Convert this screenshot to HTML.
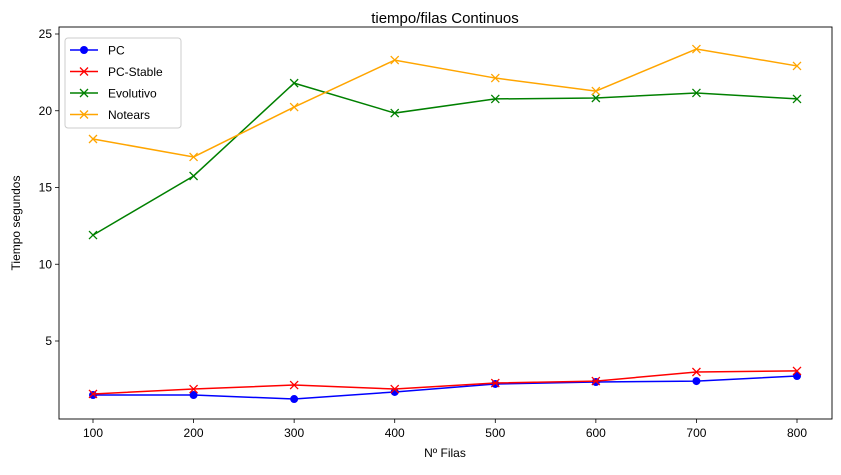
<!DOCTYPE html>
<html><head><meta charset="utf-8"><style>
html,body{margin:0;padding:0;background:#fff;}
svg{font-family:"Liberation Sans","DejaVu Sans",sans-serif;}
</style></head><body>
<svg id="chart" width="841" height="470" viewBox="0 0 841 470">
<text x="445" y="23" font-size="15" text-anchor="middle">tiempo/filas Continuos</text>
<text x="445" y="457" font-size="12" text-anchor="middle">Nº Filas</text>
<text x="20" y="223" font-size="12" text-anchor="middle" transform="rotate(-90 20 223)">Tiempo segundos</text>
<g id="axes"></g><g id="series"></g>
<rect x="59" y="27" width="773" height="392" fill="none" stroke="#000" stroke-width="0.9"/>
<g id="legend"></g>
</svg>
<script>
const categories=[100,200,300,400,500,600,700,800];
const pcValues=[1.48,1.48,1.22,1.68,2.2,2.33,2.39,2.72];
const pcStableValues=[1.55,1.87,2.13,1.87,2.26,2.39,2.98,3.05];
const evolutivoValues=[11.9,15.75,21.8,19.85,20.77,20.83,21.16,20.77];
const notearsValues=[18.16,16.99,20.24,23.3,22.13,21.28,24.02,22.92];
const xTicks=[100,200,300,400,500,600,700,800];
const yTicks=[5,10,15,20,25];
const NS='http://www.w3.org/2000/svg';
const xs=v=>93+(v-100)*(704/700);
const ys=v=>341-(v-5)*15.35;
function mk(t,a,p){const e=document.createElementNS(NS,t);for(const k in a)e.setAttribute(k,a[k]);p.appendChild(e);return e;}
const ax=document.getElementById('axes');
xTicks.forEach(v=>{
 const l=mk('line',{x1:xs(v),x2:xs(v),y1:419,y2:423,stroke:'#000','stroke-width':0.8},ax);
 
 
 const t=mk('text',{x:xs(v),y:437,'font-size':12,'text-anchor':'middle'},ax);t.textContent=v;
 
 
});
yTicks.forEach(v=>{
 const l=mk('line',{x1:55,x2:59,y1:ys(v),y2:ys(v),stroke:'#000','stroke-width':0.8},ax);
 
 
 const t=mk('text',{x:52,y:ys(v)+4,'font-size':12,'text-anchor':'end'},ax);t.textContent=v;
 
 
});
const sg=document.getElementById('series');
function marker(g,x,y,c,type){
 if(type==='o'){const m=mk('circle',{cx:x,cy:y,r:4,fill:c},g);}
 else{const m=mk('path',{d:`M${x-4},${y-4}L${x+4},${y+4}M${x-4},${y+4}L${x+4},${y-4}`,stroke:c,'stroke-width':1.3,fill:'none'},g);}
}
const series=[['pc',pcValues,'#0000ff','o'],['pc-stable',pcStableValues,'#ff0000','x'],['evolutivo',evolutivoValues,'#008000','x'],['notears',notearsValues,'#ffa500','x']];
series.forEach(([n,vals,c,t])=>{
 const g=mk('g',{},sg);
 
 
 const p=mk('polyline',{points:vals.map((v,i)=>xs(categories[i])+','+ys(v)).join(' '),fill:'none',stroke:c,'stroke-width':1.5},g);
 
 
 vals.forEach((v,i)=>marker(g,xs(categories[i]),ys(v),c,t));
});
const lg=document.getElementById('legend');
const box=mk('rect',{x:65,y:38,width:116,height:90,rx:3,fill:'#fff',stroke:'#ccc','fill-opacity':0.8},lg);


const names=['PC','PC-Stable','Evolutivo','Notears'];
series.forEach(([n,v,c,t],i)=>{
 const y=50+i*21.5;
 const g=mk('g',{},lg);
 
 
 mk('line',{x1:70,x2:98,y1:y,y2:y,stroke:c,'stroke-width':1.5},g);
 marker(g,84,y,c,t);
 const tx=mk('text',{x:108,y:y+4.5,'font-size':12},g);tx.textContent=names[i];
});
</script>
</body></html>
